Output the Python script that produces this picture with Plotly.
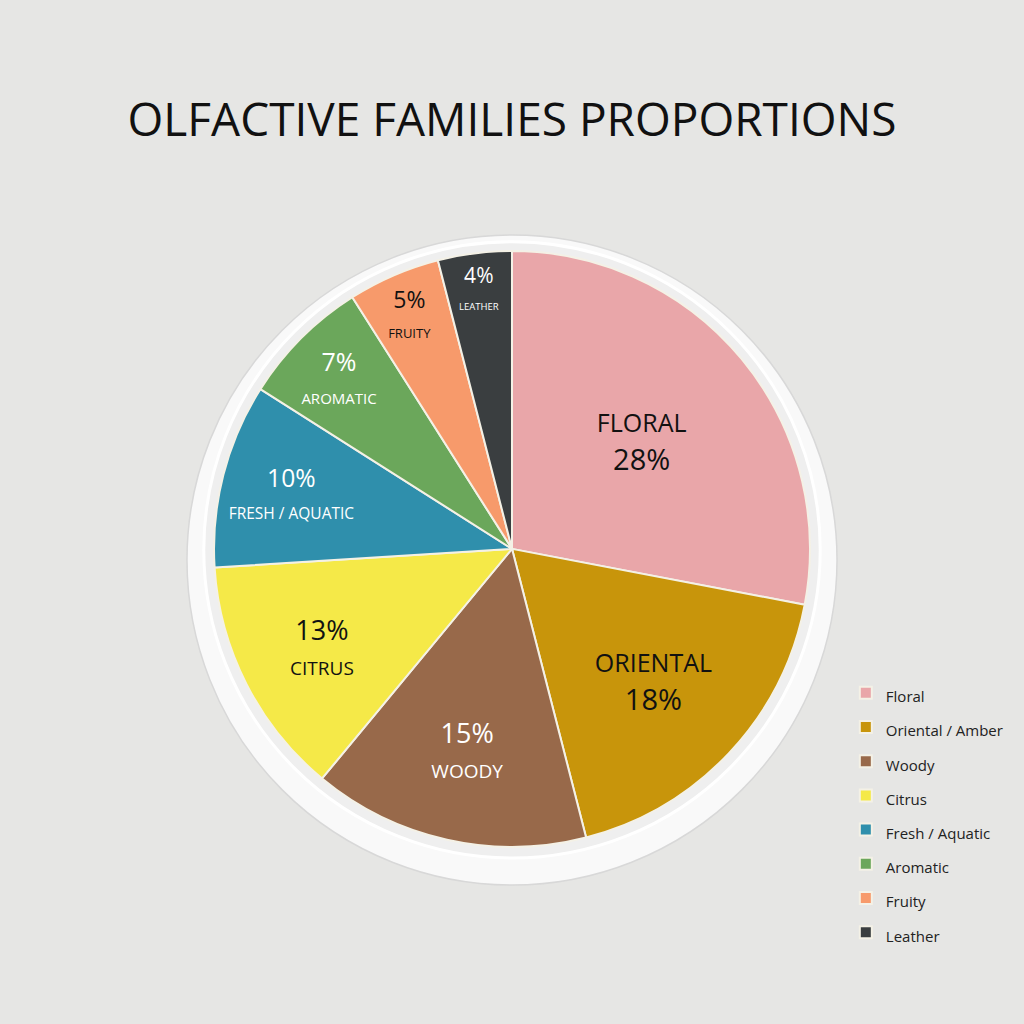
import plotly.graph_objects as go

families = ['Floral', 'Oriental / Amber', 'Woody', 'Citrus', 'Fresh / Aquatic', 'Aromatic', 'Fruity', 'Leather']
short_names = ['FLORAL', 'ORIENTAL', 'WOODY', 'CITRUS', 'FRESH / AQUATIC', 'AROMATIC', 'FRUITY', 'LEATHER']
shares = [28, 18, 15, 13, 10, 7, 5, 4]
colors = ['#e9a6a9', '#c8950b', '#98694a', '#f5e948', '#2f8fac', '#6ba75b', '#f79a6b', '#3a3e40']
text_colors = ['#111111', '#111111', '#ffffff', '#111111', '#ffffff', '#ffffff', '#111111', '#ffffff']

# sizes for the two lines of each slice label (percent, name)
pct_sizes = [29, 29, 27, 27, 27, 25, 23, 22]
name_sizes = [25, 25, 19, 19, 17, 15, 13, 10]

FONT = 'Open Sans, Lato, sans-serif'

labels_txt = []
for i, name in enumerate(short_names):
    pct = f"{shares[i]}%"
    nm = f"<span style='font-size:{name_sizes[i]}px'>{name}</span>"
    if i < 2:
        labels_txt.append(nm + '<br>' + pct)
    else:
        labels_txt.append(pct + '<br>' + nm)

legend_labels = [f"<span style='font-size:15px'>{f}</span>" for f in families]

fig = go.Figure()
fig.add_trace(go.Pie(
    labels=legend_labels,
    values=shares,
    text=labels_txt,
    textinfo='text',
    textposition='inside',
    insidetextorientation='horizontal',
    sort=False,
    direction='clockwise',
    rotation=0,
    marker=dict(colors=colors, line=dict(color='#f4f1e6', width=2)),
    insidetextfont=dict(color=text_colors, family=FONT, size=pct_sizes),
    domain=dict(x=[0.209, 0.791], y=[0.173, 0.755]),
    hovertext=families,
    hoverinfo='text+percent',
))

# white plate behind the pie
fig.add_shape(type='circle', xref='paper', yref='paper', layer='below',
              x0=0.1826, x1=0.8174, y0=0.1357, y1=0.7705,
              fillcolor='#f9f9f9', line=dict(color='#d8d8d8', width=1.5))
fig.add_shape(type='circle', xref='paper', yref='paper', layer='below',
              x0=0.199, x1=0.801, y0=0.162, y1=0.764,
              fillcolor='#efefef', line=dict(color='#ffffff', width=3))

fig.update_layout(
    width=1024, height=1024,
    margin=dict(l=0, r=0, t=0, b=0),
    paper_bgcolor='#e6e6e4',
    plot_bgcolor='#e6e6e4',
    title=dict(text='OLFACTIVE FAMILIES PROPORTIONS', x=0.5, xanchor='center',
               y=0.883, yanchor='middle',
               font=dict(family=FONT, size=46, color='#111111')),
    legend=dict(x=0.826, y=0.345, xanchor='left', yanchor='top',
                font=dict(family=FONT, size=24, color='#222222'),
                bgcolor='rgba(0,0,0,0)', itemwidth=30),
    showlegend=True,
)

fig.write_html('out.html', config={'displayModeBar': False},
               post_script="document.body.style.margin='0';document.body.style.background='#e6e6e4';")
